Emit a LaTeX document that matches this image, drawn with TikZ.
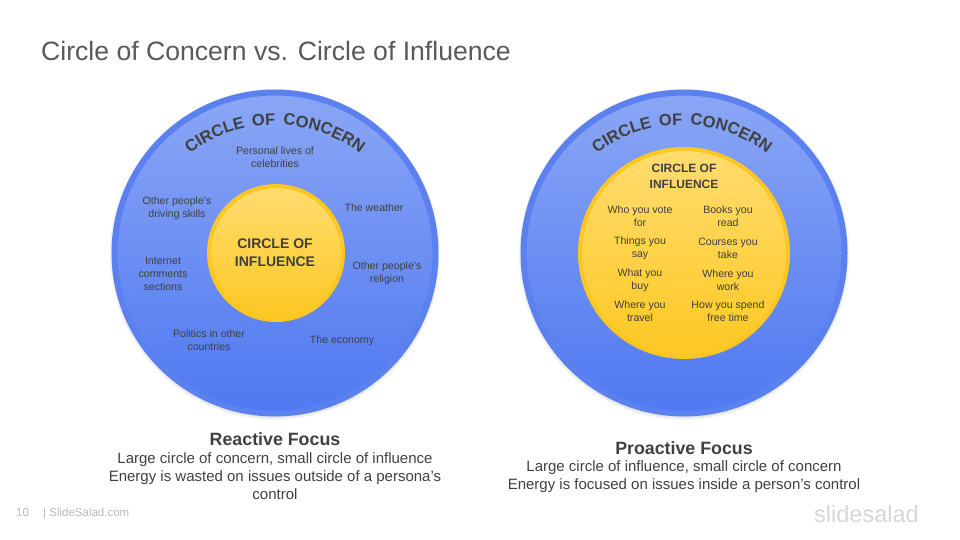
\documentclass[tikz,border=0pt]{standalone}
\usepackage{fontspec}
\setmainfont{Liberation Sans}
\newfontfamily\arcfont[LetterSpace=18]{Liberation Sans}
\usetikzlibrary{decorations.text}
\definecolor{inktext}{HTML}{404040}
\definecolor{titletext}{HTML}{595959}
\definecolor{bluering}{HTML}{5B80EF}
\definecolor{bluetop}{HTML}{8AA6F5}
\definecolor{bluelow}{HTML}{4F78F1}
\definecolor{goldring}{HTML}{FCC722}
\definecolor{goldtop}{HTML}{FFDC70}
\definecolor{goldlow}{HTML}{FDC822}
\tikzset{
  outercircle/.style={circle,draw=bluering,line width=6pt,minimum size=321pt,inner sep=0pt,
    top color=bluetop,bottom color=bluelow},
  innercircle/.style={circle,draw=goldring,line width=4pt,inner sep=0pt,
    top color=goldtop,bottom color=goldlow},
  smalltext/.style={text=inktext,font=\fontsize{10.6pt}{13pt}\selectfont,align=center,inner sep=0pt},
  headtext/.style={text=inktext,font=\fontsize{12pt}{16pt}\selectfont\bfseries,align=center,inner sep=0pt},
  focustitle/.style={text=inktext,font=\fontsize{17.8pt}{20pt}\selectfont\bfseries,align=center,inner sep=0pt},
  focusbody/.style={text=inktext,font=\fontsize{15pt}{18pt}\selectfont,align=center,inner sep=0pt},
  foottext/.style={text=black!28,font=\fontsize{11.5pt}{14pt}\selectfont,inner sep=0pt},
}
\begin{document}
\begin{tikzpicture}[x=1pt,y=-1pt]
\useasboundingbox (0,0) rectangle (960,540);
% Title
\node[anchor=west,text=titletext,font=\fontsize{26.6pt}{30pt}\selectfont,inner sep=0pt] (title) at (41,51) {Circle of Concern vs. Circle of Influence};
% Soft shadows
\foreach \s in {0,1,2}{
  \fill[black,opacity=0.03] (275,254.5) circle ({165.5-\s});
  \fill[black,opacity=0.03] (684,254.5) circle ({165.5-\s});
  \fill[black,opacity=0.05] (276,256) circle ({72-\s});
  \fill[black,opacity=0.05] (684,256) circle ({109-\s});
}
% Circles
\node[outercircle] (concernL) at (275,253) {};
\node[outercircle] (concernR) at (684,253) {};
\node[innercircle,minimum size=134pt] (influenceL) at (276,253) {};
\node[innercircle,minimum size=208pt] (influenceR) at (684,253) {};
% Curved headings
\path[decorate,decoration={text along path,text align=center,
  text={|\arcfont\fontsize{16.5pt}{18pt}\selectfont\bfseries\color{inktext}|CIRCLE OF CONCERN}}]
  (154,195) .. controls (208,101.5) and (342,101.5) .. (396,195);
\path[decorate,decoration={text along path,text align=center,
  text={|\arcfont\fontsize{16.5pt}{18pt}\selectfont\bfseries\color{inktext}|CIRCLE OF CONCERN}}]
  (561,195) .. controls (615,101.5) and (749,101.5) .. (803,195);
% Left labels
\node[headtext,font=\fontsize{14pt}{18pt}\selectfont\bfseries] (headL) at (275,252.5) {CIRCLE OF\\INFLUENCE};
\node[smalltext] (celebs) at (275,157.5) {Personal lives of\\celebrities};
\node[smalltext] (driving) at (177,208) {Other people's\\driving skills};
\node[smalltext] (weather) at (374,207.5) {The weather};
\node[smalltext] (internet) at (163,273.5) {Internet\\comments\\sections};
\node[smalltext] (religion) at (387,273) {Other people's\\religion};
\node[smalltext] (politics) at (209,340.5) {Politics in other\\countries};
\node[smalltext] (economy) at (342,340.5) {The economy};
% Right labels
\node[headtext] (headR) at (684,176.5) {CIRCLE OF\\INFLUENCE};
\node[smalltext] (vote) at (640,216.5) {Who you vote\\for};
\node[smalltext] (books) at (728,216.5) {Books you\\read};
\node[smalltext] (say) at (640,248) {Things you\\say};
\node[smalltext] (courses) at (728,248) {Courses you\\take};
\node[smalltext] (buy) at (640,280) {What you\\buy};
\node[smalltext] (work) at (728,280) {Where you\\work};
\node[smalltext] (travel) at (640,311.5) {Where you\\travel};
\node[smalltext] (spend) at (728,311.5) {How you spend\\free time};
% Captions
\node[focustitle] (reactive) at (275,439) {Reactive Focus};
\node[focusbody] (reactivetext) at (275,476) {Large circle of concern, small circle of influence\\Energy is wasted on issues outside of a persona's\\control};
\node[focustitle] (proactive) at (684,448) {Proactive Focus};
\node[focusbody] (proactivetext) at (684,477) {Large circle of influence, small circle of concern\\Energy is focused on issues inside a person's control};
% Footer
\node[foottext,anchor=west] (pagenum) at (16,513) {10};
\node[foottext,anchor=west] (site) at (43,513.5) {| SlideSalad.com};
\node[anchor=west,text=black!16,font=\fontsize{23.5pt}{28pt}\selectfont,inner sep=0pt] (brand) at (814,514) {slidesalad};
\end{tikzpicture}
\end{document}
